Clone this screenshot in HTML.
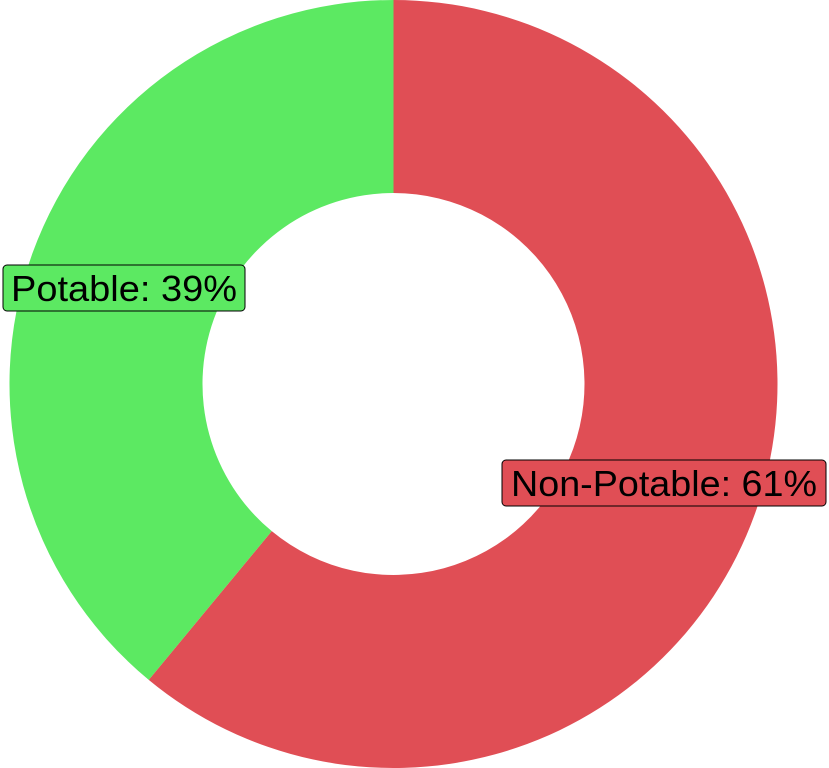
<!DOCTYPE html>
<html><head><meta charset="utf-8"><style>
html,body{margin:0;padding:0;background:#fff;width:829px;height:768px;overflow:hidden}
svg{display:block}
text{font-family:"Liberation Sans",sans-serif}
</style></head><body>
<svg id="chart" width="829" height="768"></svg>
<script>
const categories = ["Non-Potable", "Potable"];
const values = [61, 39];
const colors = ["#e04e55", "#5ce962"];
const labelBoxes = [{x:502,y:460,w:324,h:46,tw:306},{x:3,y:265,w:242,h:46,tw:226}];
const svg = document.getElementById('chart');
const NS = 'http://www.w3.org/2000/svg';
const cx = 393.5, cy = 384, R = 384, r = 191;
const total = values.reduce((a,b)=>a+b,0);
function pt(rad, a){ return [cx + rad*Math.sin(a), cy - rad*Math.cos(a)]; }
let start = 0;
values.forEach((v,i)=>{
  const end = start + v/total*2*Math.PI;
  const large = (end-start) > Math.PI ? 1 : 0;
  const [x1,y1]=pt(R,start),[x2,y2]=pt(R,end),[x3,y3]=pt(r,end),[x4,y4]=pt(r,start);
  const p = document.createElementNS(NS,'path');
  p.setAttribute('d',`M${x1},${y1}A${R},${R} 0 ${large} 1 ${x2},${y2}L${x3},${y3}A${r},${r} 0 ${large} 0 ${x4},${y4}Z`);
  p.setAttribute('fill',colors[i]);
  
  
  svg.appendChild(p);
  start = end;
});
values.forEach((v,i)=>{
  const b = labelBoxes[i];
  const g = document.createElementNS(NS,'g');
  
  
  const rect = document.createElementNS(NS,'rect');
  rect.setAttribute('x',b.x);rect.setAttribute('y',b.y);rect.setAttribute('width',b.w);rect.setAttribute('height',b.h);
  rect.setAttribute('rx',4);rect.setAttribute('fill',colors[i]);rect.setAttribute('stroke','#000');rect.setAttribute('stroke-width',1);
  g.appendChild(rect);
  const t = document.createElementNS(NS,'text');
  t.setAttribute('x',b.x+b.w/2);t.setAttribute('y',b.y+b.h/2+13);
  t.setAttribute('text-anchor','middle');t.setAttribute('font-size','36');t.setAttribute('fill','#000');
  t.setAttribute('textLength',b.tw);t.setAttribute('lengthAdjust','spacingAndGlyphs');
  t.textContent = categories[i]+': '+Math.round(v/total*100)+'%';
  g.appendChild(t);
  svg.appendChild(g);
});
</script>
</body></html>
